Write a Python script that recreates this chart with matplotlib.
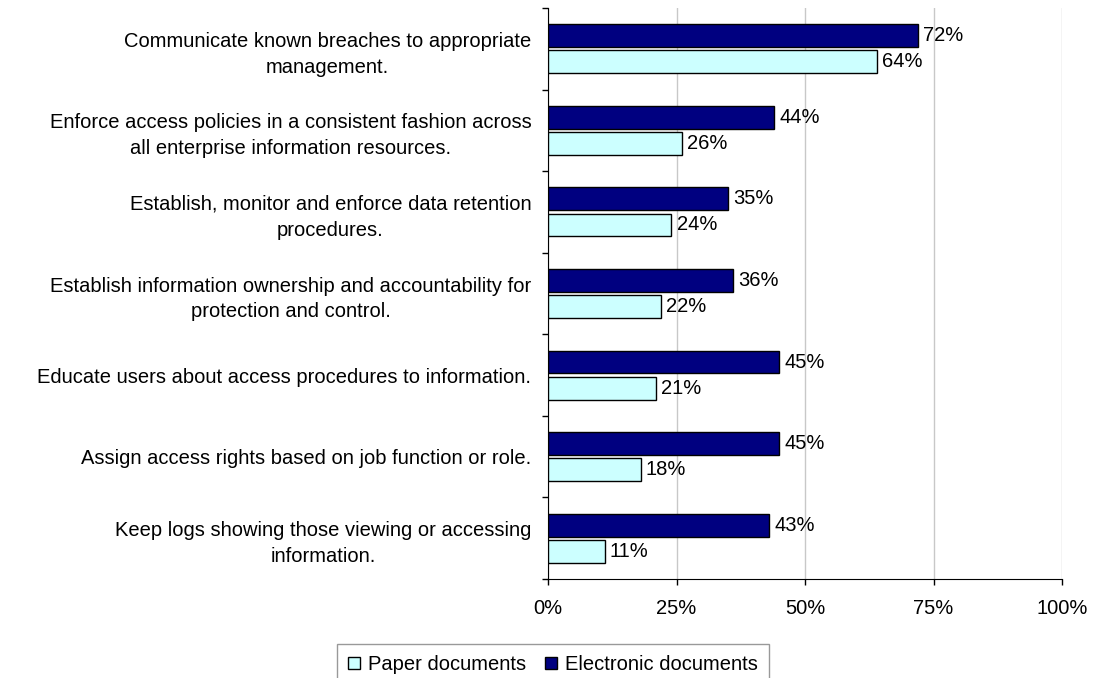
import matplotlib
matplotlib.use("Agg")
import matplotlib.pyplot as plt
import numpy as np

plt.rcParams['font.family'] = ['Liberation Sans', 'DejaVu Sans']

categories = [
    "Communicate known breaches to appropriate\nmanagement.",
    "Enforce access policies in a consistent fashion across\nall enterprise information resources.",
    "Establish, monitor and enforce data retention\nprocedures.",
    "Establish information ownership and accountability for\nprotection and control.",
    "Educate users about access procedures to information.",
    "Assign access rights based on job function or role.",
    "Keep logs showing those viewing or accessing\ninformation.",
]
electronic = [72, 44, 35, 36, 45, 45, 43]
paper = [64, 26, 24, 22, 21, 18, 11]
x_ticks = [0, 25, 50, 75, 100]
x_tick_labels = ["0%", "25%", "50%", "75%", "100%"]

paper_color = "#CCFFFF"
elec_color = "#000080"
fs = 14.5

fig = plt.figure(figsize=(10.93, 6.78), dpi=100)
ax = fig.add_axes([548 / 1093, 1 - 579 / 678, (1062 - 548) / 1093, (579 - 8) / 678])

y = np.arange(len(categories))
h = 0.28
off = 0.16
b_e = ax.barh(y - off, electronic, height=h, color=elec_color, edgecolor="black",
              linewidth=1.0, label="Electronic documents", zorder=3)
b_p = ax.barh(y + off, paper, height=h, color=paper_color, edgecolor="black",
              linewidth=1.0, label="Paper documents", zorder=3)

for bars, vals in ((b_e, electronic), (b_p, paper)):
    for bar, v in zip(bars, vals):
        ax.text(v + 1.0, bar.get_y() + bar.get_height() / 2, f"{v}%",
                va="center", ha="left", fontsize=fs, color="black")

ax.set_xlim(0, 100)
ax.set_ylim(len(categories) - 0.5, -0.5)
ax.set_xticks(x_ticks)
ax.set_xticklabels(x_tick_labels, fontsize=fs)
ax.tick_params(axis="x", length=4.5, width=1, pad=10, direction="out")
ax.set_yticks(np.arange(-0.5, len(categories), 1.0))
ax.set_yticklabels([])
ax.set_yticks(y, minor=True)
ax.set_yticklabels(categories, minor=True, fontsize=fs, multialignment="center",
                   linespacing=1.45)
ax.tick_params(axis="y", which="major", length=4.5, width=1, direction="out")
ax.tick_params(axis="y", which="minor", length=0, pad=12)

ax.grid(axis="x", color="#C8C8C8", linewidth=1, zorder=0)
ax.set_axisbelow(True)
for s in ("top", "right"):
    ax.spines[s].set_visible(False)
ax.spines["left"].set_color("black")
ax.spines["bottom"].set_color("black")

handles = [b_p, b_e]
leg = fig.legend(handles, ["Paper documents", "Electronic documents"],
                 loc="upper center", bbox_to_anchor=(553 / 1093, 1 - 644 / 678),
                 borderaxespad=0, ncol=2, fontsize=fs, frameon=True, fancybox=False,
                 edgecolor="#808080", handlelength=0.6, handleheight=0.6,
                 handletextpad=0.4, columnspacing=0.9, borderpad=0.55)
leg.get_frame().set_linewidth(1.0)

fig.savefig("out.png", dpi=100)
